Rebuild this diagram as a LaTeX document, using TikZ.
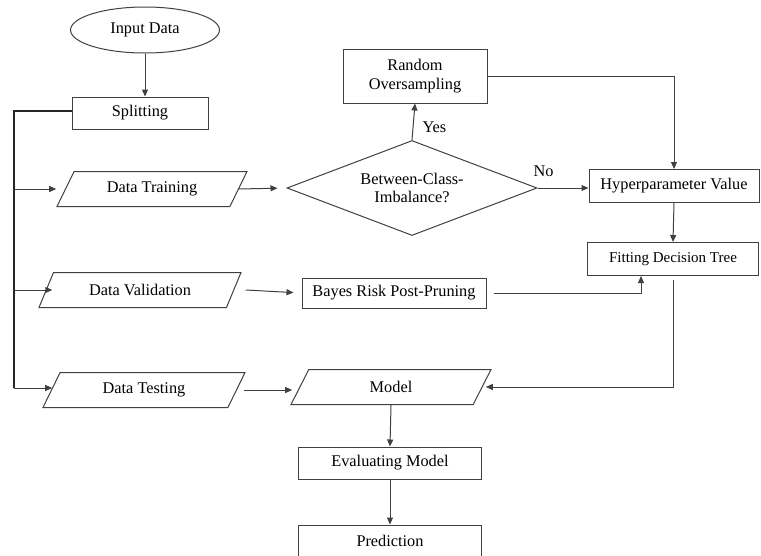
\documentclass[tikz,border=0pt]{standalone}
\usepackage{fontspec}
\setmainfont{Liberation Serif}
\usetikzlibrary{arrows.meta, positioning, shapes.geometric, calc}

\begin{document}
\begin{tikzpicture}[
		x=1pt, y=-1pt,
		font=\fontsize{16.3}{18.5}\selectfont,
		every node/.style={line width=1pt, draw=black!75, inner sep=2pt, align=center},
		process/.style={draw, rectangle, minimum height=32pt},
		terminal/.style={draw, ellipse, minimum width=149pt, minimum height=46pt},
		iodata/.style={draw, trapezium, trapezium left angle=47, trapezium right angle=133,
			trapezium stretches body, minimum width=200pt, minimum height=35pt},
		decision/.style={draw, diamond, aspect=2.6, inner sep=0pt, minimum width=250pt, minimum height=95pt},
		label/.style={draw=none, inner sep=1pt},
		arrow/.style={-{Triangle[length=7pt, width=6pt]}, line width=1pt, draw=black!75},
		trunk/.style={line width=1.5pt, draw=black!85}
		]
		\useasboundingbox (0,0) rectangle (761,555);

		% Nodes
		\node[terminal] (input) at (145,30) {Input Data};
		\node[process, minimum width=136pt] (split) at (140,113) {Splitting};
		\node[iodata, minimum width=190pt] (dtrain) at (152,189) {Data Training};
		\node[iodata, minimum width=202pt] (dval) at (140,290) {Data Validation};
		\node[iodata, minimum width=202pt] (dtest) at (144,390) {Data Testing};
		\node[decision, font=\fontsize{16.3}{17.5}\selectfont] (imb) at (412,188) {Between-Class-\\Imbalance?};
		\node[process, minimum width=144pt, minimum height=54pt] (rover) at (415,76) {Random\\Oversampling};
		\node[process, minimum width=170pt, minimum height=33pt] (hyper) at (674,186) {Hyperparameter Value};
		\node[process, minimum width=171pt, minimum height=33pt, font=\fontsize{15}{17}\selectfont] (fit) at (673,259) {Fitting Decision Tree};
		\node[process, minimum width=184pt, minimum height=30pt] (bayes) at (394,293) {Bayes Risk Post-Pruning};
		\node[iodata, trapezium left angle=41, trapezium right angle=139] (model) at (391,387) {Model};
		\node[process, minimum width=183pt] (evalm) at (390,463) {Evaluating Model};
		\node[process, minimum width=183pt] (pred) at (390,541) {Prediction};

		\coordinate (bustop) at (14,111);
		\coordinate (busend) at (14,388);

		% Arrows
		\draw[arrow] (input.south) -- (input.south |- split.north);
		\draw[trunk] (split.west |- bustop) -- (bustop) -- (busend);
		\draw[arrow] (bustop |- dtrain) -- (dtrain.bottom left corner |- dtrain);
		\draw[arrow] (bustop |- dval) -- ($(dval.bottom left corner |- dval)+(14,0)$);
		\draw[arrow] (busend) -- ($(dtest.bottom left corner |- busend)+(10,0)$);
		\draw[arrow, shorten >=9pt] ($(dtrain.top right corner |- dtrain)+(-9,0)$) -- (imb.west);
		\draw[arrow] (imb.north) -- node[label, right=8pt, pos=0.35] {Yes} (rover.south);
		\draw[arrow] (imb.east) -- node[label, above, pos=0.12, yshift=10pt] {No} (imb.east -| hyper.west);
		\draw[arrow] (rover.east) -| (hyper.north);
		\draw[arrow] (hyper.south) -- (fit.north);
		\draw[arrow, shorten >=8pt] ($(dval.top right corner |- dval)+(4,0)$) -- (bayes.west);
		\draw[arrow, shorten <=7pt] (bayes.east) -| ([xshift=-32pt]fit.south);
		\draw[arrow, shorten <=4pt] (fit.south) |- ($(model.top right corner |- model)+(-6,0)$);
		\draw[arrow] ($(dtest.top right corner |- dtest)+(-2,0)$) -- ($(model.bottom left corner |- dtest)+(2,0)$);
		\draw[arrow] (model.south) -- (evalm.north);
		\draw[arrow] (evalm.south) -- (pred.north);

	\end{tikzpicture}
\end{document}
